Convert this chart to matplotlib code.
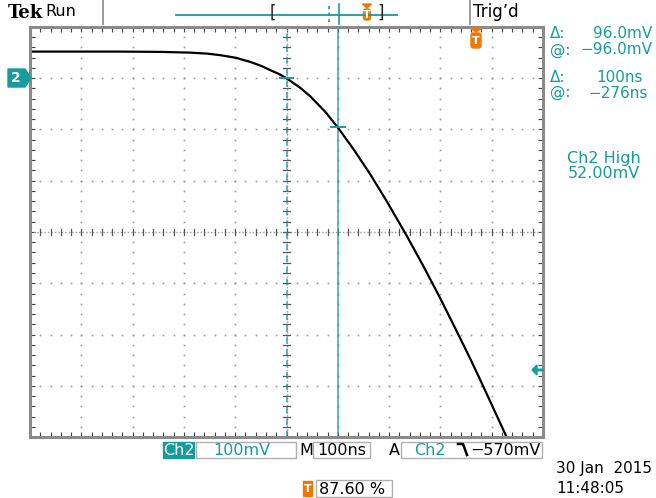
import matplotlib
matplotlib.use("Agg")
import matplotlib.pyplot as plt
import matplotlib.patches as mpatches
from matplotlib.lines import Line2D
import numpy as np

W, H = 656, 498

# ---- data (time in ns relative to trigger, voltage in mV) ----
t_ns = [-876, -700, -620, -564, -530, -505, -475, -447, -425, -408, -390,
        -376, -350, -330, -300, -276, -245, -213, -180, -143, -110, -77, -45,
        -18, 0, 25, 48, 60]
v_mV = [52, 52, 51.4, 50, 48, 45, 40, 32, 24, 16, 8,
        0, -18, -35, -66, -96, -139, -187, -241, -305, -365, -428, -492,
        -547, -585, -639, -689, -715]

t_min, t_max = -876, 124     # 87.6 % pre-trigger, 100 ns/div
v_min, v_max = -700, 100     # ground 3 div above centre, 100 mV/div
cursor_t = [-376, -276]
cursor_v = [0, -96]
trig_level = -570

teal = "#159c9c"
orange = "#f07800"
gray = "#8a8a8a"

fig = plt.figure(figsize=(W / 100, H / 100), dpi=100)
fig.patch.set_facecolor("white")

def P(x, y):
    return (x / W, 1 - y / H)

ax = fig.add_axes([30 / W, (H - 437) / H, 513 / W, 410 / H])
ax.set_xlim(t_min, t_max)
ax.set_ylim(v_min, v_max)
for s in ax.spines.values():
    s.set_color(gray)
    s.set_linewidth(2.2)
ax.set_xticks(np.arange(t_min, t_max + 1, 20))
ax.set_yticks(np.arange(v_min, v_max + 1, 20))
ax.tick_params(direction="in", length=3.5, width=0.8, color="#444444",
               top=True, right=True, labelbottom=False, labelleft=False)

# dotted graticule
xs_major = np.arange(t_min + 100, t_max, 100)
ys_major = np.arange(v_min + 100, v_max, 100)
xc, yc = -376, -300
for x in xs_major:
    if x == xc:
        continue
    yy = np.arange(v_min + 20, v_max, 20)
    ax.plot([x] * len(yy), yy, ls="none", marker="s", ms=1.2, color="#9a9a9a", mec="none")
for y in ys_major:
    if y == yc:
        continue
    xx = np.arange(t_min + 20, t_max, 20)
    ax.plot(xx, [y] * len(xx), ls="none", marker="s", ms=1.2, color="#9a9a9a", mec="none")
# centre axes
ax.axhline(yc, color="#9a9a9a", lw=1.0, ls=(0, (1, 1.5)))
ax.axvline(xc, color="#9a9a9a", lw=1.0, ls=(0, (1, 1.5)))
for x in np.arange(t_min + 20, t_max, 20):
    ax.plot([x, x], [yc - 6, yc + 6], color="#555555", lw=0.9)
for y in np.arange(v_min + 20, v_max, 20):
    ax.plot([xc - 6, xc + 6], [y, y], color="#555555", lw=0.9)

# cursors
ax.axvline(cursor_t[0], color=teal, lw=1.2, ls=(0, (4, 3)), alpha=0.8)
ax.axvline(cursor_t[1], color=teal, lw=1.2, alpha=0.8)

# waveform
ax.plot(t_ns, v_mV, color="black", lw=1.6, solid_capstyle="butt", clip_on=True)

# cursor crosses on waveform
ax.plot([cursor_t[0] - 12, cursor_t[0] + 12], [cursor_v[0], cursor_v[0]], color=teal, lw=1.4)
ax.plot([cursor_t[1] - 14, cursor_t[1] + 14], [cursor_v[1], cursor_v[1]], color=teal, lw=1.4)

# ---- header ----
fs = 11.5
fig.text(*P(8, 13), "Tek", fontsize=13, fontweight="bold", family="DejaVu Serif", va="center")
fig.text(*P(45, 12), "Run", fontsize=fs, va="center")
fig.add_artist(Line2D([103 / W, 103 / W], [1 - 0 / H, 1 - 24 / H], color=gray, lw=1.2))
fig.add_artist(Line2D([470 / W, 470 / W], [1 - 0 / H, 1 - 24 / H], color=gray, lw=1.2))
fig.add_artist(Line2D([176 / W, 397 / W], [1 - 15 / H, 1 - 15 / H], color=teal, lw=1.3))
fig.text(*P(270, 13), "[", fontsize=12, va="center", color="#222222")
fig.text(*P(377, 13), "]", fontsize=12, va="center", color="#222222")
fig.add_artist(Line2D([329 / W, 329 / W], [1 - 6 / H, 1 - 22 / H], color=teal, lw=1.2, ls=(0, (2, 2))))
fig.add_artist(Line2D([339 / W, 339 / W], [1 - 4 / H, 1 - 24 / H], color=teal, lw=1.2))
fig.text(*P(473, 12), "Trig’d", fontsize=fs + 0.5, va="center")

def tmarker(x, ytop, w=11, h=17):
    tri = mpatches.Polygon([P(x - w / 2, ytop), P(x + w / 2, ytop), P(x, ytop + 4)],
                           closed=True, transform=fig.transFigure, color=orange)
    body = mpatches.FancyBboxPatch(P(x - w / 2 + 1, ytop + h), (w - 2) / W, (h - 5) / H,
                                   boxstyle="round,pad=0,rounding_size=0.004",
                                   transform=fig.transFigure, color=orange)
    fig.add_artist(tri)
    fig.add_artist(body)
    fig.text(*P(x, ytop + 4 + (h - 4) / 2 + 1), "T", color="white", fontsize=8,
             fontweight="bold", ha="center", va="center")

tmarker(367, 4, w=9, h=16)
tmarker(476, 28, w=12, h=20)

# channel 2 ground marker
gy = 78
poly = mpatches.Polygon([P(8, gy - 9), P(25, gy - 9), P(31, gy), P(25, gy + 9), P(8, gy + 9)],
                        closed=True, transform=fig.transFigure, color=teal)
fig.add_artist(poly)
fig.text(*P(16, gy), "2", color="white", fontsize=10, fontweight="bold", ha="center", va="center")

# trigger level arrow on right
ty = 370
arr = mpatches.FancyArrow(543 / W, 1 - ty / H, -11 / W, 0, width=1.5 / H, head_width=10 / H,
                          head_length=5 / W, transform=fig.transFigure, color=teal,
                          length_includes_head=True)
fig.add_artist(arr)

# ---- right readouts ----
rf = 11
fig.text(*P(550, 34), "Δ:", color=teal, fontsize=rf, va="center")
fig.text(*P(652, 34), "96.0mV", color=teal, fontsize=rf, va="center", ha="right")
fig.text(*P(550, 50), "@:", color=teal, fontsize=rf, va="center")
fig.text(*P(652, 50), "−96.0mV", color=teal, fontsize=rf, va="center", ha="right")
fig.text(*P(550, 77), "Δ:", color=teal, fontsize=rf, va="center")
fig.text(*P(643, 77), "100ns", color=teal, fontsize=rf, va="center", ha="right")
fig.text(*P(550, 93), "@:", color=teal, fontsize=rf, va="center")
fig.text(*P(648, 93), "−276ns", color=teal, fontsize=rf, va="center", ha="right")
fig.text(*P(604, 158), "Ch2 High", color=teal, fontsize=rf + 0.5, va="center", ha="center")
fig.text(*P(604, 174), "52.00mV", color=teal, fontsize=rf + 0.5, va="center", ha="center")

# ---- bottom readouts ----
def box(x0, y0, x1, y1, fc="none", ec="#b0b0b0"):
    r = mpatches.Rectangle(P(x0, y1), (x1 - x0) / W, (y1 - y0) / H, transform=fig.transFigure,
                           facecolor=fc, edgecolor=ec, lw=1.0)
    fig.add_artist(r)

by = 450
box(163, 442, 194, 458, fc=teal, ec=teal)
fig.text(*P(178.5, by), "Ch2", color="white", fontsize=fs, ha="center", va="center")
box(196, 442, 296, 458)
fig.text(*P(242, by), "100mV", color=teal, fontsize=fs, ha="center", va="center")
fig.text(*P(299, by), "M", fontsize=fs, va="center")
box(313, 442, 370, 458)
fig.text(*P(342, by), "100ns", fontsize=fs, ha="center", va="center")
fig.text(*P(389, by), "A", fontsize=fs, va="center")
box(401, 442, 542, 458)
fig.text(*P(430, by), "Ch2", color=teal, fontsize=fs, ha="center", va="center")
fig.add_artist(Line2D([458 / W, 463 / W, 467 / W], [1 - 444 / H, 1 - 444 / H, 1 - 455 / H],
                      color="black", lw=1.8))
fig.text(*P(541, by), "−570mV", fontsize=fs, ha="right", va="center")

box(303, 481, 312, 496, fc=orange, ec=orange)
fig.text(*P(307.5, 489), "T", color="white", fontsize=8, fontweight="bold", ha="center", va="center")
box(316, 480, 392, 497)
fig.text(*P(319, 489), "87.60 %", fontsize=fs, va="center")
fig.text(*P(556, 468), "30 Jan  2015", fontsize=11, va="center")
fig.text(*P(556, 488), "11:48:05", fontsize=11, va="center")

fig.savefig("out.png", dpi=100)
